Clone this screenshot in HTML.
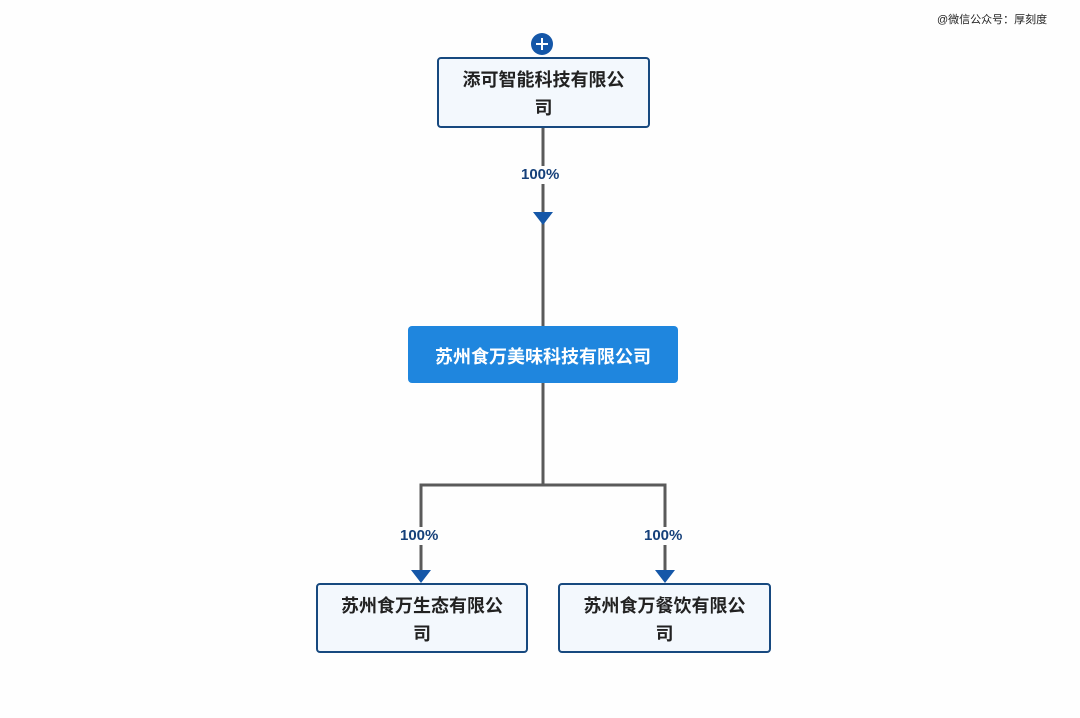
<!DOCTYPE html>
<html><head><meta charset="utf-8"><style>
html,body{margin:0;padding:0;}
body{width:1080px;height:718px;background:#fefefe;position:relative;overflow:hidden;font-family:"Liberation Sans","Noto Sans CJK SC",sans-serif;}
.box{position:absolute;box-sizing:border-box;background:#f3f8fd;border:2px solid #17497f;border-radius:4px;color:#222;font-size:18px;font-weight:bold;text-align:center;line-height:28px;padding-top:7px;}
.lbl{position:absolute;color:#15407a;font-size:15px;font-weight:bold;background:#fefefe;line-height:18px;}
.wm{position:absolute;top:11px;left:937px;font-size:11px;color:#222;}
</style></head><body>
<div class="wm">@微信公众号：厚刻度</div>
<svg width="1080" height="718" style="position:absolute;left:0;top:0">
<g stroke="#5a5a5a" stroke-width="3" fill="none">
<line x1="543" y1="127" x2="543" y2="326"/>
<line x1="543" y1="382" x2="543" y2="485"/>
<polyline points="421,572 421,485 665,485 665,572"/>
</g>
<g fill="#1557a8">
<polygon points="533,212 553,212 543,225"/>
<polygon points="411,570 431,570 421,583"/>
<polygon points="655,570 675,570 665,583"/>
<circle cx="542" cy="44" r="11"/>
</g>
<g stroke="#fff" stroke-width="2"><line x1="536" y1="44" x2="548" y2="44"/><line x1="542" y1="38" x2="542" y2="50"/></g>
</svg>
<div class="box" style="left:437px;top:57px;width:213px;height:71px;">添可智能科技有限公<br>司</div>
<div class="lbl" style="left:521px;top:166px;">100%</div>
<div class="box" style="left:408px;top:326px;width:270px;height:57px;background:#1f86de;border:none;color:#fff;line-height:57px;padding-top:3px;">苏州食万美味科技有限公司</div>
<div class="lbl" style="left:400px;top:527px;">100%</div>
<div class="lbl" style="left:644px;top:527px;">100%</div>
<div class="box" style="left:316px;top:583px;width:212px;height:70px;">苏州食万生态有限公<br>司</div>
<div class="box" style="left:558px;top:583px;width:213px;height:70px;">苏州食万餐饮有限公<br>司</div>
</body></html>
